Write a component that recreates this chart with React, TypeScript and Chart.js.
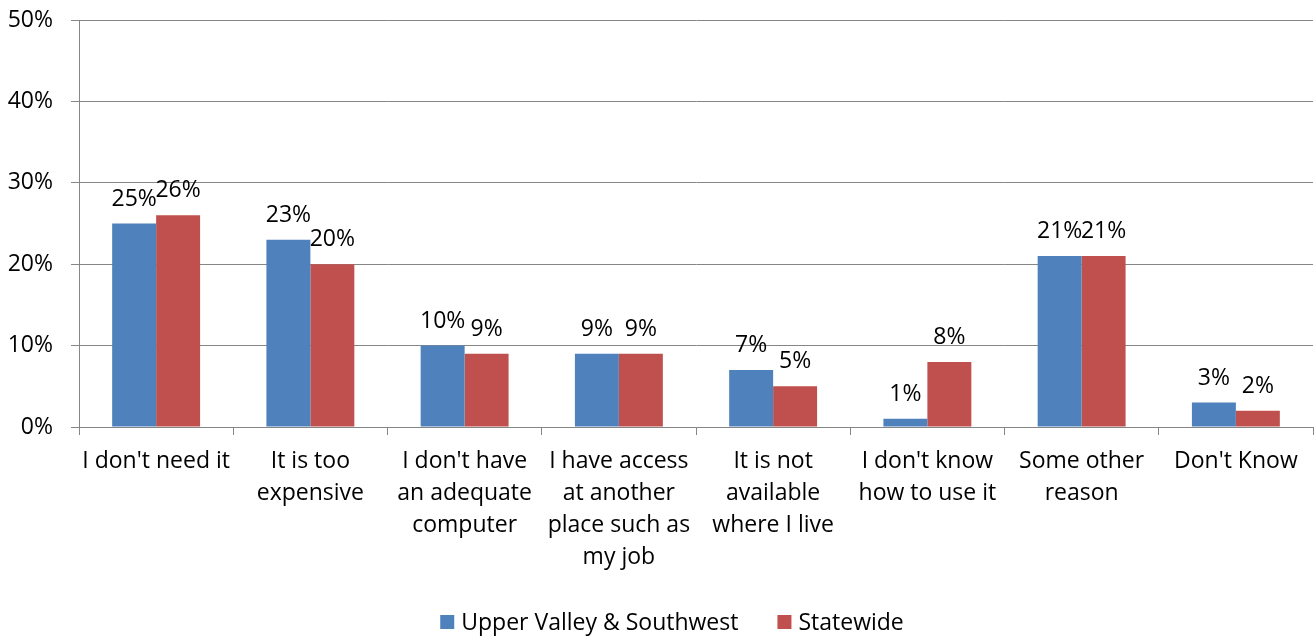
import React, { useEffect, useRef } from "react";
import { Chart, registerables } from "chart.js";

Chart.register(...registerables);

const categories: (string | string[])[] = [
  "I don't need it",
  ["It is too", "expensive"],
  ["I don't have", "an adequate", "computer"],
  ["I have access", "at another", "place such as", "my job"],
  ["It is not", "available", "where I live"],
  ["I don't know", "how to use it"],
  ["Some other", "reason"],
  "Don't Know",
];
const upperValley = [25, 23, 10, 9, 7, 1, 21, 3];
const statewide = [26, 20, 9, 9, 5, 8, 21, 2];
const seriesNames = ["Upper Valley & Southwest", "Statewide"];
const seriesColors = ["#4F81BD", "#C0504D"];
const yTicks = [0, 10, 20, 30, 40, 50];

const FONT = "'Open Sans'";
const FS = 23;

const dataLabels = {
  id: "dataLabels",
  afterDatasetsDraw(chart: any) {
    const ctx = chart.ctx;
    ctx.save();
    ctx.font = `${FS}px ${FONT}`;
    ctx.fillStyle = "#000";
    ctx.textAlign = "center";
    ctx.textBaseline = "alphabetic";
    chart.data.datasets.forEach((ds: any, i: number) => {
      const meta = chart.getDatasetMeta(i);
      meta.data.forEach((el: any, j: number) => {
        ctx.fillText(`${ds.data[j]}%`, el.x, el.y - 18);
      });
    });
    ctx.restore();
  },
};

const customLegend = {
  id: "customLegend",
  afterDraw(chart: any) {
    const ctx = chart.ctx;
    ctx.save();
    ctx.font = `${FS}px ${FONT}`;
    ctx.textBaseline = "middle";
    ctx.textAlign = "left";
    const box = 14;
    const gapBoxText = 7;
    const gapItems = 39;
    const items = chart.data.datasets.map((ds: any) => ({
      label: ds.label,
      color: ds.backgroundColor,
      w: box + gapBoxText + ctx.measureText(ds.label).width,
    }));
    const total = items.reduce((s: number, it: any) => s + it.w, 0) + gapItems * (items.length - 1);
    let x = 672 - total / 2;
    const y = 622;
    items.forEach((it: any) => {
      ctx.fillStyle = it.color;
      ctx.fillRect(x, y - box / 2, box, box);
      ctx.fillStyle = "#000";
      ctx.fillText(it.label, x + box + gapBoxText, y + 1);
      x += it.w + gapItems;
    });
    ctx.restore();
  },
};

export default function App() {
  const ref = useRef<HTMLCanvasElement>(null);
  useEffect(() => {
    const chart = new Chart(ref.current!, {
      type: "bar",
      data: {
        labels: categories,
        datasets: [
          { label: seriesNames[0], data: upperValley, backgroundColor: seriesColors[0], borderWidth: 0 },
          { label: seriesNames[1], data: statewide, backgroundColor: seriesColors[1], borderWidth: 0 },
        ],
      },
      options: {
        animation: false,
        responsive: false,
        maintainAspectRatio: false,
        layout: { padding: { top: 20, right: 2, left: 0, bottom: 30 } },
        datasets: { bar: { categoryPercentage: 0.57, barPercentage: 1 } },
        plugins: {
          tooltip: { enabled: false },
          legend: { display: false },
        },
        scales: {
          x: {
            grid: { offset: true, drawOnChartArea: false, tickLength: 8, color: "#868686" },
            border: { color: "#868686" },
            ticks: {
              font: { family: FONT, size: FS, lineHeight: 32 / FS },
              color: "#000",
              padding: 10,
              maxRotation: 0,
              autoSkip: false,
            },
            afterFit(scale: any) {
              scale.height = 180;
              scale.paddingLeft = 0;
              scale.paddingRight = 0;
            },
          },
          y: {
            min: 0,
            max: 50,
            afterBuildTicks(scale: any) {
              scale.ticks = yTicks.map((v) => ({ value: v }));
            },
            grid: { color: "#868686", tickLength: 8 },
            border: { color: "#868686" },
            ticks: {
              font: { family: FONT, size: FS },
              color: "#000",
              padding: 18,
              callback: (v: any) => `${v}%`,
            },
            afterFit(scale: any) {
              scale.width = 79;
              scale.paddingTop = 0;
              scale.paddingBottom = 0;
            },
          },
        },
      },
      plugins: [dataLabels, customLegend],
    });
    return () => chart.destroy();
  }, []);
  return (
    <div style={{ position: "absolute", left: 0, top: 0, width: 1315, height: 637 }}>
      <canvas ref={ref} width={1315} height={637} />
    </div>
  );
}
